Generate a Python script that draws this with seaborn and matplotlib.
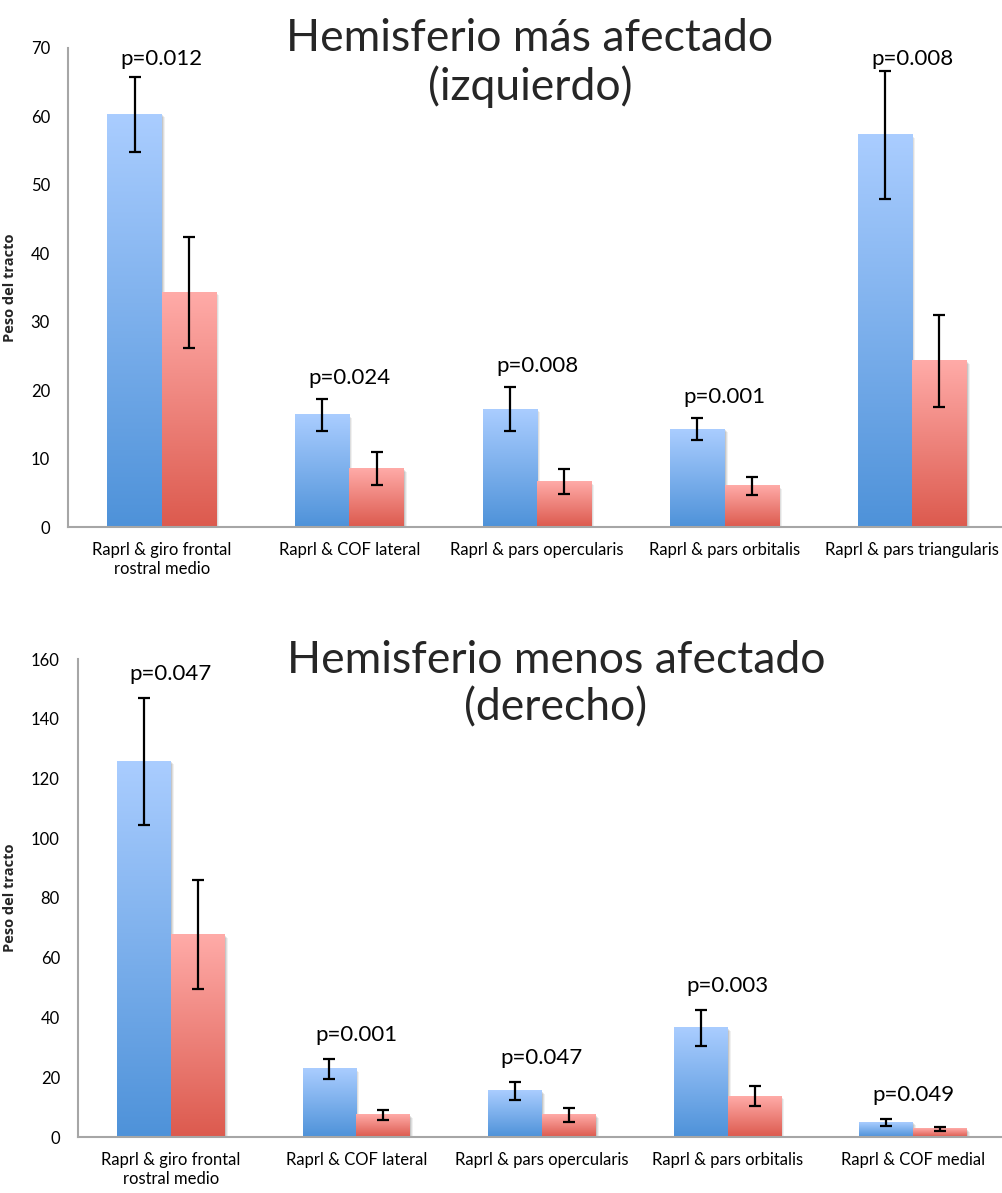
import numpy as np
import pandas as pd
import matplotlib
matplotlib.use("Agg")
import matplotlib.pyplot as plt
from matplotlib.colors import LinearSegmentedColormap
import seaborn as sns

# ---- data -------------------------------------------------------------
groups = ["Grupo A", "Grupo B"]

cats_izq = ["Raprl & giro frontal\nrostral medio", "Raprl & COF lateral",
            "Raprl & pars opercularis", "Raprl & pars orbitalis",
            "Raprl & pars triangularis"]
a_izq = [60.3, 16.4, 17.2, 14.3, 57.3]
a_izq_err = [5.5, 2.3, 3.2, 1.6, 9.4]
b_izq = [34.3, 8.5, 6.6, 6.0, 24.3]
b_izq_err = [8.1, 2.4, 1.85, 1.35, 6.7]
p_izq = ["p=0.012", "p=0.024", "p=0.008", "p=0.001", "p=0.008"]

cats_der = ["Raprl & giro frontal\nrostral medio", "Raprl & COF lateral",
            "Raprl & pars opercularis", "Raprl & pars orbitalis",
            "Raprl & COF medial"]
a_der = [125.7, 22.8, 15.4, 36.5, 4.9]
a_der_err = [21.2, 3.4, 3.05, 6.1, 1.1]
b_der = [67.7, 7.4, 7.4, 13.7, 2.7]
b_der_err = [18.2, 1.75, 2.4, 3.4, 0.8]
p_der = ["p=0.047", "p=0.001", "p=0.047", "p=0.003", "p=0.049"]

# ---- style ------------------------------------------------------------
sns.set_style("white")
plt.rcParams["font.family"] = ["Lato", "DejaVu Sans"]

grad_cmaps = {
    "Grupo A": LinearSegmentedColormap.from_list("ga", ["#4E92D9", "#AACDFF"]),
    "Grupo B": LinearSegmentedColormap.from_list("gb", ["#DC5A4E", "#FFABA8"]),
}
palette = {"Grupo A": "#7BAEEC", "Grupo B": "#EE8580"}
grad = np.linspace(0, 1, 256).reshape(-1, 1)


def panel(ax, cats, a, a_err, b, b_err, plabels, ymax, ystep, label_pad_px):
    df = pd.DataFrame({
        "tracto": cats * 2,
        "grupo": [groups[0]] * len(cats) + [groups[1]] * len(cats),
        "peso": list(a) + list(b),
    })
    errs = list(a_err) + list(b_err)
    sns.barplot(data=df, x="tracto", y="peso", hue="grupo", order=cats,
                hue_order=groups, palette=palette, width=0.58,
                errorbar=None, legend=False, ax=ax, linewidth=0)

    patches = list(ax.patches)
    rows = [(g, ci) for g in groups for ci in range(len(cats))]
    ax.set_xlim(-0.5, len(cats) - 0.5)
    ax.set_ylim(0, ymax)

    # data units per pixel, used for the soft shadow and label spacing
    bbox = ax.get_window_extent()
    dx_px = len(cats) / bbox.width
    dy_px = ymax / bbox.height

    for p, (g, ci), e in zip(patches, rows, errs):
        x0, y0 = p.get_x(), p.get_y()
        w, h = p.get_width(), p.get_height()
        # faint drop shadow
        for k, al in ((3, 0.06), (2, 0.08), (1, 0.10)):
            ax.add_patch(plt.Rectangle((x0 + k * dx_px, y0), w, h - k * dy_px,
                                       facecolor="black", alpha=al,
                                       linewidth=0, zorder=1))
        ax.imshow(grad, cmap=grad_cmaps[g], origin="lower", aspect="auto",
                  extent=[x0, x0 + w, y0, y0 + h], zorder=2,
                  interpolation="bilinear")
        p.set_visible(False)
        ax.errorbar(x0 + w / 2, y0 + h, yerr=e, color="black", lw=1.6,
                    capsize=4.5, capthick=1.6, zorder=4)

    ax.set_xlim(-0.5, len(cats) - 0.5)
    ax.set_ylim(0, ymax)

    # significance labels above the first group's bars
    pad = label_pad_px * dy_px
    for ci, lab in enumerate(plabels):
        top = a[ci] + a_err[ci]
        y = min(top + pad, ymax - 2.4 * ymax / 100)
        ax.text(ci, y, lab, ha="center", va="center", fontsize=16,
                color="black", zorder=5)

    ax.set_yticks(np.arange(0, ymax + 1, ystep))
    ax.set_xlabel("")
    ax.set_ylabel("Peso del tracto", fontsize=10.5, fontweight="bold",
                  family=["Open Sans", "DejaVu Sans"])
    for side in ("top", "right"):
        ax.spines[side].set_visible(False)
    for side in ("left", "bottom"):
        ax.spines[side].set_color("#A6A6A6")
        ax.spines[side].set_linewidth(1.5)
    ax.tick_params(axis="both", length=0, labelsize=12, colors="black")
    ax.tick_params(axis="x", pad=11)
    ax.tick_params(axis="y", pad=13)
    ax.grid(False)


fig = plt.figure(figsize=(10.03, 11.93), dpi=100)
W, H = 1003.0, 1193.0

ax1 = fig.add_axes([68 / W, (H - 527) / H, (1006 - 68) / W, (527 - 48) / H])
ax2 = fig.add_axes([78 / W, (H - 1137) / H, (1006 - 78) / W, (1137 - 659) / H])

panel(ax1, cats_izq, a_izq, a_izq_err, b_izq, b_izq_err, p_izq, 70, 10, 21)
panel(ax2, cats_der, a_der, a_der_err, b_der, b_der_err, p_der, 160, 20, 24)

ax1.yaxis.set_label_coords((17 - 68) / (1006 - 68), 0.5)
ax2.yaxis.set_label_coords((17 - 78) / (1006 - 78), 0.5)

fig.text(530 / W, 1 - 63 / H, "Hemisferio más afectado\n(izquierdo)",
         ha="center", va="center", fontsize=32, linespacing=1.2)
fig.text(556 / W, 1 - 684 / H, "Hemisferio menos afectado\n(derecho)",
         ha="center", va="center", fontsize=32, linespacing=1.2)

fig.savefig("out.png", dpi=100, facecolor="white")
